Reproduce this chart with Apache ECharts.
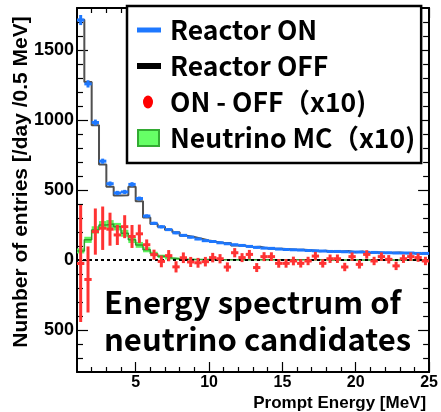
<!DOCTYPE html>
<html>
<head>
<meta charset="utf-8">
<script src="https://cdn.jsdelivr.net/npm/echarts@6/dist/echarts.min.js"></script>
<style>
  html, body { margin: 0; padding: 0; background: #fff; }
  #chart { width: 441px; height: 412px; }
</style>
</head>
<body>
<div id="chart"></div>
<script>
// 0.5 MeV bins from 1 to 25 MeV (bin centres)
const binWidth = 0.5
const energy = [1.25, 1.75, 2.25, 2.75, 3.25, 3.75, 4.25, 4.75, 5.25, 5.75,
  6.25, 6.75, 7.25, 7.75, 8.25, 8.75, 9.25, 9.75, 10.25, 10.75,
  11.25, 11.75, 12.25, 12.75, 13.25, 13.75, 14.25, 14.75, 15.25, 15.75,
  16.25, 16.75, 17.25, 17.75, 18.25, 18.75, 19.25, 19.75, 20.25, 20.75,
  21.25, 21.75, 22.25, 22.75, 23.25, 23.75, 24.25, 24.75]

const reactorOn = [1714, 1258, 982, 706, 545, 479, 486, 540, 439, 314,
  262, 237, 217, 194, 176, 163, 150, 138, 132, 123,
  116, 109, 104, 97, 90, 85, 83, 78, 75, 73,
  71, 68, 66, 64, 61, 61, 59, 57, 57, 54,
  54, 52, 52, 50, 50, 50, 47, 47]
const reactorOnErr = [36, 26, 21, 18, 16, 15, 15, 16, 14, 12,
  11, 11, 10, 10, 9, 9, 8, 8, 8, 8,
  7, 7, 7, 7, 7, 7, 7, 6, 6, 6,
  6, 6, 6, 6, 6, 6, 6, 6, 6, 5,
  5, 5, 5, 5, 5, 5, 5, 5]
const reactorOff = [1716, 1272, 962, 683, 523, 461, 462, 523, 420, 303,
  258, 238, 214, 199, 174, 164, 152, 139, 130, 122,
  121, 104, 102, 93, 95, 83, 81, 80, 77, 74,
  73, 69, 63, 66, 60, 60, 64, 55, 60, 50,
  55, 50, 51, 54, 49, 48, 45, 48]
// ON - OFF, scaled x10
const onMinusOff = [-25, -139, 203, 227, 220, 179, 238, 168, 187, 109,
  38, -10, 31, -49, 16, -14, -20, -12, 17, 9,
  -50, 52, 17, 40, -54, 24, 24, -24, -24, -7,
  -24, -7, 28, -24, 9, 9, -50, 24, -31, 40,
  -7, 24, 5, -42, 9, 24, 17, -7]
const onMinusOffErr = [418, 236, 165, 155, 118, 72, 82, 82, 66, 38,
  36, 42, 40, 40, 38, 36, 35, 34, 34, 33,
  33, 33, 32, 32, 32, 32, 31, 31, 31, 31,
  30, 30, 30, 30, 30, 30, 30, 30, 30, 30,
  30, 30, 30, 30, 30, 30, 30, 30]
// neutrino MC, scaled x10
const neutrinoMC = [65, 144, 215, 250, 257, 238, 191, 144, 108, 73,
  44, 26, 14, 9, 6, 4, 3, 3, 2, 2,
  2, 2, 1, 1, 1, 1, 1, 1, 1, 1,
  1, 1, 1, 1, 0, 0, 0, 0, 0, 0,
  0, 0, 0, 0, 0, 0, 0, 0]
const neutrinoMCErr = [18, 22, 26, 28, 28, 27, 25, 23, 21, 18,
  15, 12, 10, 8, 6, 5, 4, 4, 3, 3,
  3, 3, 3, 3, 2, 2, 2, 2, 2, 2,
  2, 2, 2, 2, 2, 2, 2, 2, 2, 2,
  2, 2, 2, 2, 2, 2, 2, 2]

const xMajor = [5, 10, 15, 20, 25]
const xMinor = [2, 3, 4, 6, 7, 8, 9, 11, 12, 13, 14, 16, 17, 18, 19, 21, 22, 23, 24]
const yMajor = [-500, 0, 500, 1000, 1500]
const yMinor = [-700, -600, -400, -300, -200, -100, 100, 200, 300, 400,
  600, 700, 800, 900, 1100, 1200, 1300, 1400, 1600, 1700]

const blue = '#1e78ff'
const red = '#ff3333'

// histogram as step line through the bin edges
function stepData(vals) {
  let d = energy.map((e, i) => [e - binWidth / 2, vals[i]])
  d.push([energy[energy.length - 1] + binWidth / 2, vals[vals.length - 1]])
  return d
}

function crossItem(color, width) {
  return function (params, api) {
    let x = api.value(0), y = api.value(1), e = api.value(2)
    let l = api.coord([x - binWidth / 2, y])
    let r = api.coord([x + binWidth / 2, y])
    let t = api.coord([x, y + e])
    let b = api.coord([x, y - e])
    return {
      type: 'group',
      children: [
        { type: 'line', shape: { x1: l[0], y1: l[1], x2: r[0], y2: r[1] }, style: { stroke: color, lineWidth: width } },
        { type: 'line', shape: { x1: t[0], y1: t[1], x2: b[0], y2: b[1] }, style: { stroke: color, lineWidth: width } }
      ]
    }
  }
}

function bandItem(params, api) {
  let x = api.value(0), y = api.value(1), e = api.value(2)
  let p1 = api.coord([x - binWidth / 2, y + e])
  let p2 = api.coord([x + binWidth / 2, y - e])
  return {
    type: 'rect',
    shape: { x: p1[0], y: p1[1], width: p2[0] - p1[0], height: p2[1] - p1[1] },
    style: { fill: '#5cf25c' }
  }
}

const tickFont = { fontFamily: 'Liberation Sans', fontWeight: 'bold', color: '#000' }
const frame = { show: true, onZero: false, lineStyle: { color: '#000', width: 2 } }
const noLine = { show: false, onZero: false }

function xAxisDef(pos, values, len, main) {
  return {
    type: 'value', position: pos, min: 1, max: 25, gridIndex: 0,
    axisLine: main ? frame : noLine,
    axisTick: { show: true, inside: true, length: len, customValues: values, lineStyle: { color: '#000', width: 1.2 } },
    axisLabel: { show: false },
    splitLine: { show: false }
  }
}
function yAxisDef(pos, values, len, main) {
  return {
    type: 'value', position: pos, min: -800, max: 1800, gridIndex: 0,
    axisLine: main ? frame : noLine,
    axisTick: { show: true, inside: true, length: len, customValues: values, lineStyle: { color: '#000', width: 1.2 } },
    axisLabel: { show: false },
    splitLine: { show: false }
  }
}

let xBottom = xAxisDef('bottom', xMajor, 10, true)
xBottom.axisLabel = Object.assign({ show: true, customValues: xMajor, fontSize: 16, margin: 3 }, tickFont)
xBottom.name = 'Prompt Energy [MeV]'
xBottom.nameLocation = 'end'
xBottom.nameGap = -3
xBottom.nameMoveOverlap = false
xBottom.nameTextStyle = Object.assign({ fontSize: 17, align: 'right', verticalAlign: 'top', padding: [23, 0, 0, 0] }, tickFont)

let yLeft = yAxisDef('left', yMajor, 11, true)
yLeft.axisLabel = Object.assign({
  show: true, customValues: yMajor, fontSize: 18, margin: 3,
  formatter: v => String(Math.abs(v))
}, tickFont)
yLeft.name = 'Number of entries [/day /0.5 MeV]'
yLeft.nameLocation = 'middle'
yLeft.nameGap = 45
yLeft.nameMoveOverlap = false
yLeft.nameTextStyle = Object.assign({ fontSize: 21, padding: [0, 0, 0, 16] }, tickFont)

let chart = echarts.init(document.getElementById('chart'))
chart.setOption({
  animation: false,
  grid: { left: 77, right: 6, top: 8, bottom: 37 },
  xAxis: [
    xBottom,
    xAxisDef('bottom', xMinor, 5, false),
    xAxisDef('top', xMajor, 10, true),
    xAxisDef('top', xMinor, 5, false)
  ],
  yAxis: [
    yLeft,
    yAxisDef('left', yMinor, 6, false),
    yAxisDef('right', yMajor, 11, true),
    yAxisDef('right', yMinor, 6, false)
  ],
  legend: {
    orient: 'vertical',
    left: 127,
    top: 6,
    padding: [8, 6, 9, 9],
    itemGap: 4,
    itemWidth: 24,
    itemHeight: 18,
    selectedMode: false,
    backgroundColor: '#fff',
    borderColor: '#000',
    borderWidth: 2.5,
    textStyle: {
      fontFamily: 'Noto Sans CJK JP', fontWeight: 'bold', fontSize: 26.5, color: '#000',
      lineHeight: 32, padding: [0, 0, 0, 4]
    },
    data: [
      { name: 'Reactor ON', icon: 'path://M0,0M24,18M0,6.5H24V11.5H0Z', itemStyle: { color: blue } },
      { name: 'Reactor OFF', icon: 'path://M0,0M24,18M0,6H24V12H0Z', itemStyle: { color: '#000' } },
      { name: 'ON - OFF（x10)', icon: 'path://M0,0M24,18M6,9A5,6.5 0 1,0 16,9A5,6.5 0 1,0 6,9Z', itemStyle: { color: '#ff0000' } },
      { name: 'Neutrino MC（x10)', icon: 'path://M0,0M24,18M1,1H22V17H1Z', itemStyle: { color: '#66ff66', borderColor: '#33aa33', borderWidth: 2 } }
    ]
  },
  graphic: [{
    type: 'text',
    left: 104,
    top: 284,
    z: 50,
    style: {
      text: 'Energy spectrum of\nneutrino candidates',
      font: 'bold 31px "Noto Sans CJK JP"',
      lineHeight: 37,
      fill: '#000'
    }
  }],
  series: [
    {
      name: 'Neutrino MC（x10)',
      type: 'custom',
      z: 1,
      itemStyle: { color: '#66ff66' },
      renderItem: bandItem,
      data: energy.map((e, i) => [e, neutrinoMC[i], neutrinoMCErr[i]])
    },
    {
      name: 'Neutrino MC（x10)',
      type: 'line',
      z: 2,
      step: 'end',
      symbol: 'none',
      lineStyle: { color: '#2e9e2e', width: 1.5 },
      itemStyle: { color: '#66ff66' },
      data: stepData(neutrinoMC)
    },
    {
      name: 'Reactor OFF',
      type: 'line',
      z: 3,
      step: 'end',
      symbol: 'none',
      lineStyle: { color: '#505050', width: 2 },
      itemStyle: { color: '#000' },
      data: stepData(reactorOff),
      markLine: {
        silent: true,
        symbol: 'none',
        label: { show: false },
        lineStyle: { color: '#000', width: 2, type: [3, 3] },
        data: [{ yAxis: 0 }]
      }
    },
    {
      name: 'Reactor ON',
      type: 'custom',
      z: 4,
      itemStyle: { color: blue },
      renderItem: crossItem(blue, 3),
      data: energy.map((e, i) => [e, reactorOn[i], reactorOnErr[i]])
    },
    {
      name: 'ON - OFF（x10)',
      type: 'custom',
      z: 5,
      itemStyle: { color: red },
      renderItem: crossItem(red, 3),
      data: energy.map((e, i) => [e, onMinusOff[i], onMinusOffErr[i]])
    }
  ]
})
</script>
</body>
</html>
